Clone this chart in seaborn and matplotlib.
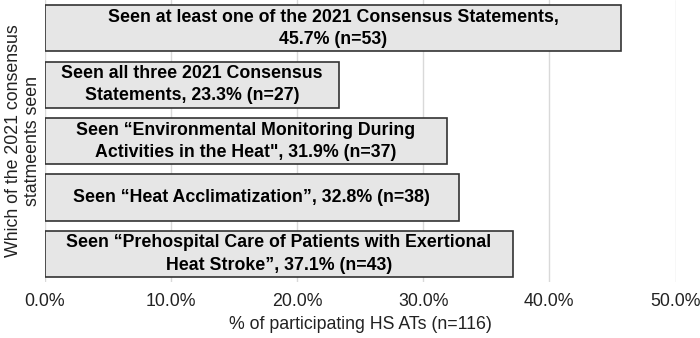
import matplotlib
matplotlib.use("Agg")
import matplotlib.pyplot as plt
import seaborn as sns
import pandas as pd
from matplotlib.ticker import FuncFormatter

categories = [
    "Seen at least one of the 2021 Consensus Statements,\n45.7% (n=53)",
    "Seen all three 2021 Consensus\nStatements, 23.3% (n=27)",
    "Seen \u201cEnvironmental Monitoring During\nActivities in the Heat\", 31.9% (n=37)",
    "Seen \u201cHeat Acclimatization\u201d, 32.8% (n=38)",
    "Seen \u201cPrehospital Care of Patients with Exertional\nHeat Stroke\u201d, 37.1% (n=43)",
]
values = [45.7, 23.3, 31.9, 32.8, 37.1]
xticks = [0, 10, 20, 30, 40, 50]

df = pd.DataFrame({"cat": categories, "pct": values})

sns.set_theme(style="white")
plt.rcParams["font.family"] = ["Liberation Sans", "DejaVu Sans"]

fig, ax = plt.subplots(figsize=(7, 3.38), dpi=100)
fig.subplots_adjust(left=0.064, right=0.965, top=1.0, bottom=0.165)

sns.barplot(data=df, x="pct", y="cat", orient="h", color="#e6e6e6",
            saturation=1, edgecolor="#333333", linewidth=1.2, width=0.82, ax=ax)

ax.set_xlim(0, 50)
ax.set_xticks(xticks)
ax.xaxis.set_major_formatter(FuncFormatter(lambda v, p: f"{v:.1f}%"))
ax.set_axisbelow(True)
ax.grid(axis="x", color="#d9d9d9", linewidth=1)
ax.set_yticks([])
for s in ax.spines.values():
    s.set_visible(False)

fs = 12.8
for i, (c, v) in enumerate(zip(categories, values)):
    ax.text(v / 2, i, c, ha="center", va="center", fontsize=fs,
            fontweight="bold", color="#000000", linespacing=1.4)

ax.tick_params(axis="x", labelsize=fs, colors="#222222", length=0, pad=8)
ax.set_xlabel("% of participating HS ATs (n=116)", fontsize=fs, color="#222222", labelpad=4)
ax.set_ylabel("Which of the 2021 consensus\nstatmeents seen", fontsize=fs, color="#222222",
              labelpad=3, linespacing=1.1)

fig.savefig("out.png", dpi=100)
